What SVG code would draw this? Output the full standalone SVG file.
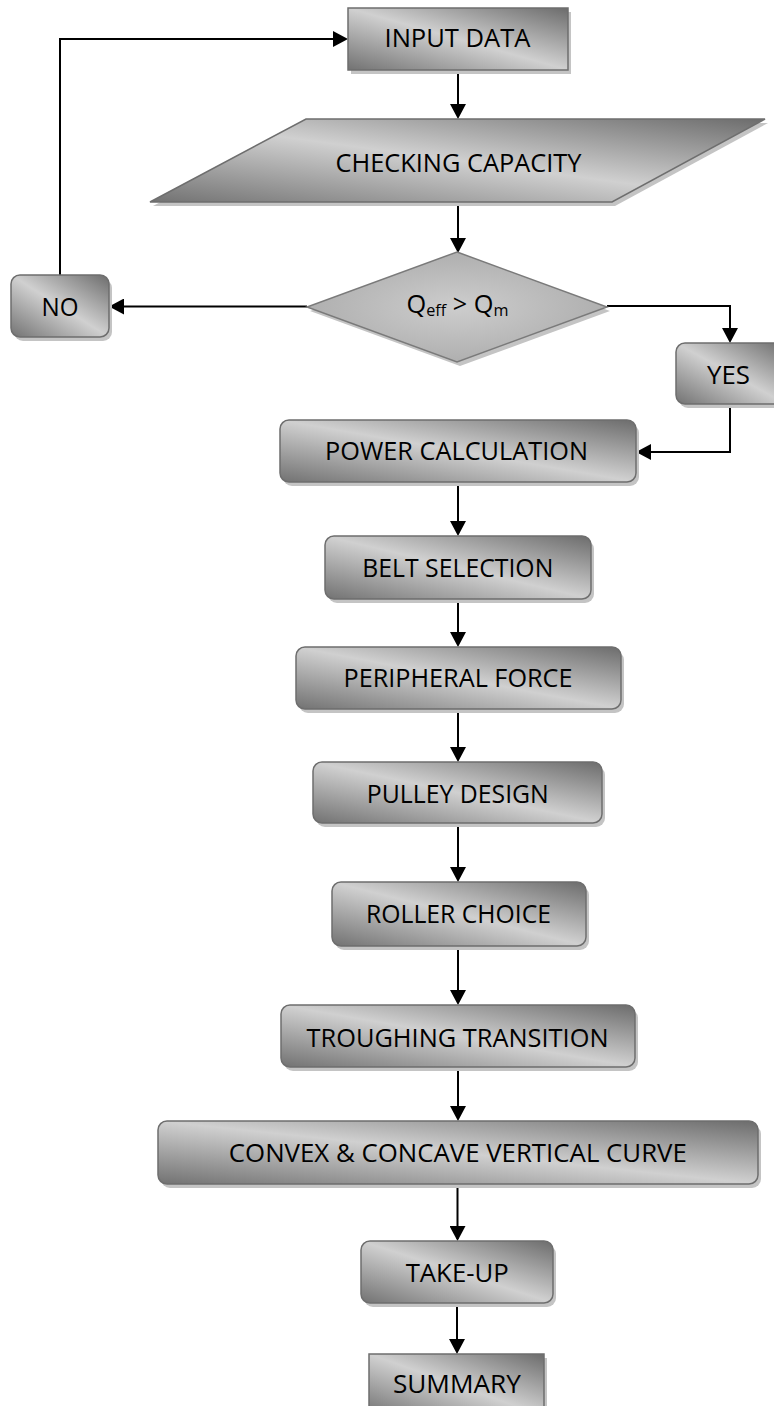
<svg xmlns="http://www.w3.org/2000/svg" width="774" height="1406" viewBox="0 0 774 1406">
<defs>
<linearGradient id="g" x1="0" y1="1" x2="1" y2="0">
<stop offset="0" stop-color="#727272"/>
<stop offset="0.5" stop-color="#d0d0d0"/>
<stop offset="1" stop-color="#6c6c6c"/>
</linearGradient>
<radialGradient id="rg" cx="0.5" cy="0.5" r="0.6">
<stop offset="0" stop-color="#cdcdcd"/>
<stop offset="1" stop-color="#a9a9a9"/>
</radialGradient>
<marker id="ah" markerUnits="userSpaceOnUse" markerWidth="15" markerHeight="16" refX="13" refY="8" orient="auto">
<path d="M0,0 L15,8 L0,16 Z" fill="#000"/>
</marker>
</defs>
<style>
.box{fill:url(#g);stroke:#6e6e6e;stroke-width:1.5}
.dia{fill:url(#rg);stroke:#7a7a7a;stroke-width:1.5}
.sh{fill:#c4c4c4}
.t{font-family:"Open Sans","Liberation Sans",sans-serif;font-size:25px;fill:#000;text-anchor:middle}
.c{fill:none;stroke:#000;stroke-width:2;marker-end:url(#ah)}
</style>

<g id="connectors">
<path class="c" d="M458,70 V117"/>
<path class="c" d="M458,202 V251"/>
<path class="c" d="M307,306.5 H111"/>
<path class="c" d="M60,275 V39 H346"/>
<path class="c" d="M607,306 H730 V341"/>
<path class="c" d="M730,404 V452 H638"/>
<path class="c" d="M458,482 V534"/>
<path class="c" d="M458,599 V645"/>
<path class="c" d="M458,709 V760"/>
<path class="c" d="M458,823 V880"/>
<path class="c" d="M458,946 V1003"/>
<path class="c" d="M458,1067 V1119"/>
<path class="c" d="M457.5,1184 V1239"/>
<path class="c" d="M457,1303 V1352"/>
</g>

<g id="input-data">
<rect class="sh" x="351" y="12" width="220" height="62"/>
<rect class="box" x="348" y="8" width="220" height="62"/>
<text class="t" x="457.5" y="47" textLength="146" lengthAdjust="spacingAndGlyphs">INPUT DATA</text>
</g>

<g id="checking-capacity">
<polygon class="sh" points="309,123 768,123 615,206 153,206"/>
<polygon class="box" points="306,119 765,119 612,202 150,202"/>
<text class="t" x="458.5" y="172" textLength="246" lengthAdjust="spacingAndGlyphs">CHECKING CAPACITY</text>
</g>

<g id="decision">
<polygon class="sh" points="460,256 610,311 460,366 310,311"/>
<polygon class="dia" points="457,252 607,307 457,362 307,307"/>
<text class="t" x="406.5" y="312.5" style="text-anchor:start" textLength="102" lengthAdjust="spacingAndGlyphs">Q<tspan dy="3.5" font-size="16">eff</tspan><tspan dy="-3.5"> &gt; Q</tspan><tspan dy="3.5" font-size="16">m</tspan></text>
</g>

<g id="no">
<rect class="sh" x="14" y="279" width="98" height="62" rx="9"/>
<rect class="box" x="11" y="275" width="98" height="62" rx="9"/>
<text class="t" x="60" y="316" textLength="37" lengthAdjust="spacingAndGlyphs">NO</text>
</g>

<g id="yes">
<rect class="sh" x="679" y="347" width="110" height="61" rx="9"/>
<rect class="box" x="676" y="343" width="110" height="61" rx="9"/>
<text class="t" x="728.5" y="384" textLength="43" lengthAdjust="spacingAndGlyphs">YES</text>
</g>

<g id="power-calculation">
<rect class="sh" x="283" y="424" width="356" height="62" rx="9"/>
<rect class="box" x="280" y="420" width="356" height="62" rx="9"/>
<text class="t" x="456.5" y="460" textLength="263" lengthAdjust="spacingAndGlyphs">POWER CALCULATION</text>
</g>

<g id="belt-selection">
<rect class="sh" x="328" y="540" width="266" height="63" rx="9"/>
<rect class="box" x="325" y="536" width="266" height="63" rx="9"/>
<text class="t" x="457.8" y="577.3" textLength="191" lengthAdjust="spacingAndGlyphs">BELT SELECTION</text>
</g>

<g id="peripheral-force">
<rect class="sh" x="299" y="651" width="325" height="62" rx="9"/>
<rect class="box" x="296" y="647" width="325" height="62" rx="9"/>
<text class="t" x="458" y="687" textLength="229" lengthAdjust="spacingAndGlyphs">PERIPHERAL FORCE</text>
</g>

<g id="pulley-design">
<rect class="sh" x="316" y="766" width="289" height="61" rx="9"/>
<rect class="box" x="313" y="762" width="289" height="61" rx="9"/>
<text class="t" x="457.8" y="802.7" textLength="182" lengthAdjust="spacingAndGlyphs">PULLEY DESIGN</text>
</g>

<g id="roller-choice">
<rect class="sh" x="335" y="886" width="254" height="64" rx="9"/>
<rect class="box" x="332" y="882" width="254" height="64" rx="9"/>
<text class="t" x="458.5" y="923" textLength="185" lengthAdjust="spacingAndGlyphs">ROLLER CHOICE</text>
</g>

<g id="troughing-transition">
<rect class="sh" x="284" y="1009" width="354" height="62" rx="9"/>
<rect class="box" x="281" y="1005" width="354" height="62" rx="9"/>
<text class="t" x="457.5" y="1046.7" textLength="302" lengthAdjust="spacingAndGlyphs">TROUGHING TRANSITION</text>
</g>

<g id="convex-concave">
<rect class="sh" x="161" y="1125" width="600" height="63" rx="9"/>
<rect class="box" x="158" y="1121" width="600" height="63" rx="9"/>
<text class="t" x="457.8" y="1161.7" textLength="458" lengthAdjust="spacingAndGlyphs">CONVEX &amp; CONCAVE VERTICAL CURVE</text>
</g>

<g id="take-up">
<rect class="sh" x="364" y="1245" width="192" height="62" rx="9"/>
<rect class="box" x="361" y="1241" width="192" height="62" rx="9"/>
<text class="t" x="457.2" y="1281.7" textLength="103" lengthAdjust="spacingAndGlyphs">TAKE-UP</text>
</g>

<g id="summary">
<rect class="sh" x="372" y="1358" width="175" height="62"/>
<rect class="box" x="369" y="1354" width="175" height="62"/>
<text class="t" x="456.9" y="1393" textLength="128" lengthAdjust="spacingAndGlyphs">SUMMARY</text>
</g>
</svg>
